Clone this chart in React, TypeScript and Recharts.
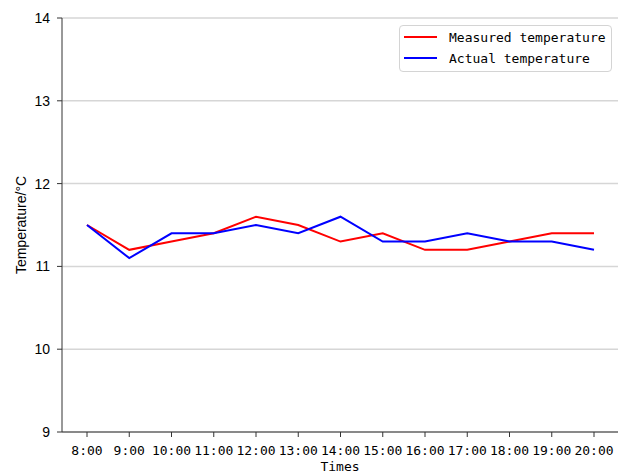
import {
  LineChart,
  Line,
  XAxis,
  YAxis,
  CartesianGrid,
  Legend,
} from "recharts";

const times = [
  "8:00", "9:00", "10:00", "11:00", "12:00", "13:00", "14:00",
  "15:00", "16:00", "17:00", "18:00", "19:00", "20:00",
];
const measured = [11.5, 11.2, 11.3, 11.4, 11.6, 11.5, 11.3, 11.4, 11.2, 11.2, 11.3, 11.4, 11.4];
const actual = [11.5, 11.1, 11.4, 11.4, 11.5, 11.4, 11.6, 11.3, 11.3, 11.4, 11.3, 11.3, 11.2];
const yTicks = [9, 10, 11, 12, 13, 14];
const seriesNames = ["Measured temperature", "Actual temperature"];

const data = times.map((time, i) => ({
  time,
  measured: measured[i],
  actual: actual[i],
}));

const mono = "'DejaVu Sans Mono', monospace";
const sans = "'Liberation Sans', Arial, sans-serif";
const axisColor = "#333";

const LegendBox = ({ payload }: any) => {
  const items = [...(payload || [])].sort(
    (a: any, b: any) => seriesNames.indexOf(a.value) - seriesNames.indexOf(b.value)
  );
  return (
    <div
      style={{
        position: "relative",
        width: 213,
        height: 47,
        boxSizing: "border-box",
        border: "1px solid #d4d4d4",
        borderRadius: 4,
        background: "#fff",
        fontFamily: mono,
        fontSize: 13,
        color: "#000",
      }}
    >
      {items.map((entry: any, i: number) => (
        <div
          key={entry.value}
          style={{
            position: "absolute",
            left: 4,
            top: 1 + i * 21,
            height: 20,
            display: "flex",
            alignItems: "center",
            whiteSpace: "nowrap",
          }}
        >
          <svg width={33} height={4} style={{ display: "block" }}>
            <line x1={0} y1={2} x2={33} y2={2} stroke={entry.color} strokeWidth={2} />
          </svg>
          <span style={{ marginLeft: 12 }}>{entry.value}</span>
        </div>
      ))}
    </div>
  );
};

export default function App() {
  return (
    <div style={{ position: "absolute", left: 0, top: 0, width: 625, height: 473, background: "#fff" }}>
      <LineChart
        width={625}
        height={473}
        data={data}
        margin={{ top: 18, right: 7, bottom: 0, left: 0 }}
      >
        <CartesianGrid vertical={false} stroke="#d6d6d6" strokeWidth={1.5} />
        <XAxis
          dataKey="time"
          height={41}
          padding={{ left: 25, right: 24 }}
          interval={0}
          stroke={axisColor}
          tickSize={5}
          tickMargin={9}
          tick={{ fill: "#000", fontSize: 13, fontFamily: mono }}
          label={{
            value: "Times",
            position: "insideBottom",
            offset: 2,
            style: { fill: "#000", fontSize: 13, fontFamily: mono },
          }}
        />
        <XAxis
          xAxisId="top"
          dataKey="time"
          orientation="top"
          height={0}
          padding={{ left: 25, right: 24 }}
          tick={false}
          tickLine={false}
          stroke={axisColor}
        />
        <YAxis
          width={62}
          domain={[9, 14]}
          ticks={yTicks}
          interval={0}
          stroke={axisColor}
          tickSize={5}
          tickMargin={7}
          tick={{ fill: "#000", fontSize: 14, fontFamily: sans }}
          label={{
            value: "Temperature/°C",
            angle: -90,
            position: "insideLeft",
            offset: 21,
            style: { fill: "#000", fontSize: 14, fontFamily: sans, textAnchor: "middle" },
          }}
        />
        <YAxis
          yAxisId="right"
          orientation="right"
          width={0}
          domain={[9, 14]}
          ticks={yTicks}
          tick={false}
          tickLine={false}
          stroke={axisColor}
        />
        <Legend
          layout="vertical"
          align="center"
          verticalAlign="middle"
          wrapperStyle={{ top: 25, left: 399, width: 213 }}
          content={<LegendBox />}
        />
        <Line
          name={seriesNames[0]}
          dataKey="measured"
          stroke="#ff0000"
          strokeWidth={2}
          dot={false}
          isAnimationActive={false}
        />
        <Line
          name={seriesNames[1]}
          dataKey="actual"
          stroke="#0000ff"
          strokeWidth={2}
          dot={false}
          isAnimationActive={false}
        />
      </LineChart>
    </div>
  );
}
